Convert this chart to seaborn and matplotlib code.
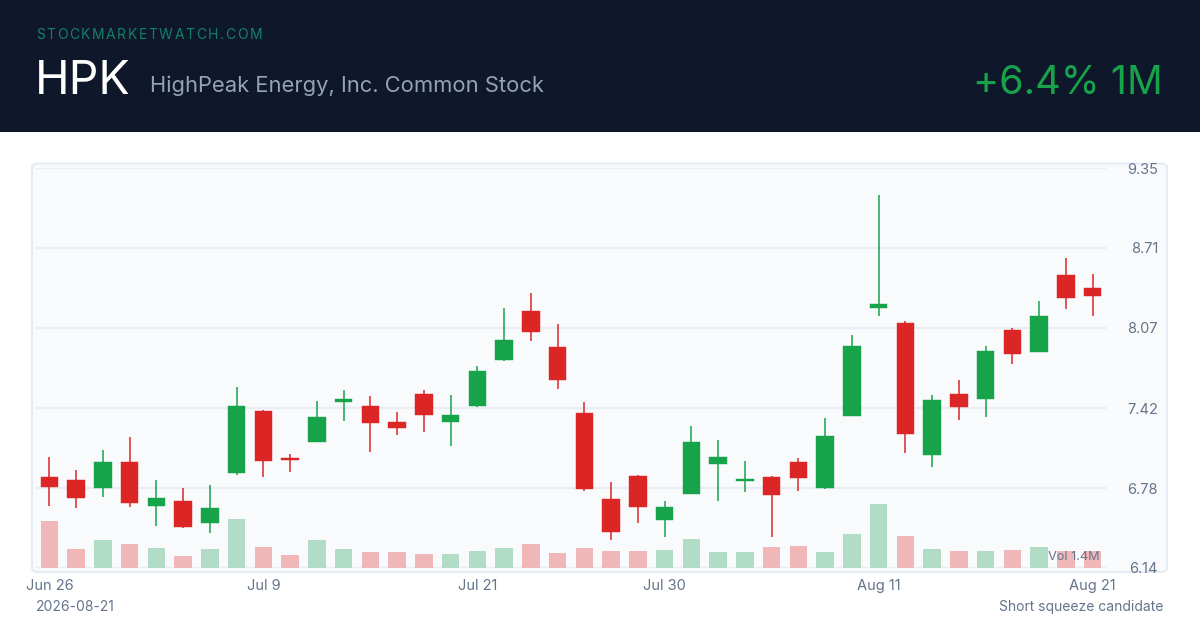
import numpy as np
import pandas as pd
import matplotlib
matplotlib.use("Agg")
import matplotlib.pyplot as plt
import seaborn as sns
from matplotlib.patches import FancyBboxPatch, Rectangle

# ---------------- data ----------------
dates = [d for d in pd.bdate_range("2026-06-26", "2026-08-21") if d != pd.Timestamp("2026-07-03")]
opens = [6.87, 6.85, 6.78, 6.99, 6.64, 6.68, 6.50, 6.90, 7.40, 7.025, 7.15, 7.475, 7.44, 7.31, 7.54,
         7.31, 7.44, 7.81, 8.20, 7.91, 7.38, 6.69, 6.88, 6.525, 6.73, 6.975, 6.835, 6.87, 6.99, 6.78,
         7.36, 8.225, 8.11, 7.045, 7.54, 7.50, 8.05, 7.87, 8.49, 8.39]
closes = [6.79, 6.70, 6.99, 6.66, 6.70, 6.47, 6.62, 7.44, 7.00, 7.005, 7.35, 7.495, 7.30, 7.26, 7.37,
          7.37, 7.72, 7.97, 8.03, 7.65, 6.77, 6.43, 6.63, 6.63, 7.15, 7.03, 6.85, 6.725, 6.865, 7.20,
          7.92, 8.26, 7.215, 7.49, 7.435, 7.88, 7.86, 8.16, 8.31, 8.32]
highs = [7.03, 6.93, 7.09, 7.19, 6.85, 6.78, 6.81, 7.59, 7.41, 7.055, 7.48, 7.57, 7.52, 7.39, 7.57,
         7.53, 7.76, 8.23, 8.35, 8.10, 7.47, 6.83, 6.885, 6.68, 7.28, 7.17, 7.00, 6.875, 7.02, 7.34,
         8.01, 9.13, 8.12, 7.53, 7.65, 7.92, 8.07, 8.28, 8.63, 8.50]
lows = [6.64, 6.62, 6.71, 6.63, 6.48, 6.46, 6.42, 6.89, 6.87, 6.91, 7.15, 7.32, 7.07, 7.21, 7.23,
        7.12, 7.43, 7.80, 7.96, 7.58, 6.76, 6.365, 6.50, 6.39, 6.73, 6.68, 6.75, 6.39, 6.76, 6.775,
        7.36, 8.16, 7.06, 6.95, 7.33, 7.35, 7.78, 7.87, 8.22, 8.16]
volumes_m = [1.03, 0.42, 0.61, 0.52, 0.43, 0.26, 0.41, 1.07, 0.45, 0.28, 0.61, 0.41, 0.36, 0.36, 0.30,
             0.30, 0.38, 0.44, 0.53, 0.33, 0.43, 0.37, 0.38, 0.40, 0.63, 0.36, 0.34, 0.47, 0.48, 0.34,
             0.75, 1.40, 0.70, 0.41, 0.37, 0.37, 0.39, 0.45, 0.37, 0.37]
tick_labels = ["Jun 26", "Jul 9", "Jul 21", "Jul 30", "Aug 11", "Aug 21"]
tick_dates = ["2026-06-26", "2026-07-09", "2026-07-21", "2026-07-30", "2026-08-11", "2026-08-21"]
price_ticks = [6.14, 6.78, 7.42, 8.07, 8.71, 9.35]
y_min, y_max = 6.14, 9.35

ticker = "HPK"
company = "HighPeak Energy, Inc. Common Stock"
site = "STOCKMARKETWATCH.COM"
change_text = "+6.4% 1M"
date_stamp = "2026-08-21"
footnote = "Short squeeze candidate"
vol_label = "Vol 1.4M"

# ---------------- style ----------------
sns.set_theme(style="white")
plt.rcParams["font.family"] = ["Inter", "DejaVu Sans"]

GREEN = "#16a34a"
RED = "#dc2626"
VGREEN = "#b1dcc5"
VRED = "#f0b7b9"
MUTED = "#64748b"
GRID = "#e9edf3"

W, H = 1200, 630
fig = plt.figure(figsize=(W / 100, H / 100), dpi=100)
fig.patch.set_facecolor("white")

def fx(px):
    return px / W

def fy(py):
    return 1 - py / H

# header band
fig.patches.append(Rectangle((0, fy(132)), 1, 132 / H, transform=fig.transFigure,
                             facecolor="#0f172a", edgecolor="none", zorder=-2))
# chart panel
fig.patches.append(FancyBboxPatch((fx(32), fy(572)), fx(1135), (572 - 163.5) / H,
                                  boxstyle="round,pad=0,rounding_size=0.006",
                                  transform=fig.transFigure, facecolor="#f8fafc",
                                  edgecolor="#e2e8f0", linewidth=1.2, zorder=-2))

# ---------------- axes ----------------
ax = fig.add_axes([fx(36), 1 - 568 / H, fx(1070), 400 / H])
ax.set_facecolor("none")
ax2 = ax.twinx()
ax2.set_facecolor("none")

n = len(opens)
idx = np.arange(n)
o = np.array(opens); c = np.array(closes)
hi = np.array(highs); lo = np.array(lows)
up = c >= o

# volume bars via seaborn
vol_df = pd.DataFrame({"i": idx, "vol": volumes_m, "dir": np.where(up, "up", "down")})
sns.barplot(data=vol_df, x="i", y="vol", hue="dir", palette={"up": VGREEN, "down": VRED},
            native_scale=True, width=0.66, errorbar=None, legend=False, ax=ax2,
            linewidth=0, saturation=1)
ax2.set_ylim(0, max(volumes_m) / 0.16)
ax2.set_yticks([])
ax2.set_ylabel("")
ax2.set_xlabel("")
for s in ax2.spines.values():
    s.set_visible(False)

# candles
colors = np.where(up, GREEN, RED)
ax.vlines(idx, lo, hi, colors=colors, linewidth=1.1, zorder=3)
body_bottom = np.minimum(o, c)
body_h = np.maximum(np.abs(c - o), 0.018)
ax.bar(idx, body_h, bottom=body_bottom, width=0.66, color=colors, edgecolor=colors,
       linewidth=0.3, zorder=4)

ax.set_xlim(-0.5, n - 0.5)
ax.set_ylim(y_min, y_max)
ax.set_yticks(price_ticks)
ax.set_yticklabels([f"{v:.2f}" for v in price_ticks])
ax.yaxis.tick_right()
ax.tick_params(axis="y", length=0, pad=37.5, labelsize=10.5, labelcolor=MUTED)
for lab in ax.get_yticklabels():
    lab.set_horizontalalignment("right")
ax.grid(axis="y", color=GRID, linewidth=1.6, zorder=0)
ax.grid(axis="x", visible=False)
ax.set_axisbelow(True)

date_index = {d.strftime("%Y-%m-%d"): i for i, d in enumerate(dates)}
ax.set_xticks([date_index[d] for d in tick_dates])
ax.set_xticklabels(tick_labels)
ax.tick_params(axis="x", length=0, pad=8, labelsize=10.5, labelcolor=MUTED)
for s in ax.spines.values():
    s.set_visible(False)

ax2.text(0.9945, 0.028, vol_label, transform=ax.transAxes, ha="right", va="center",
         fontsize=9.2, color=MUTED, zorder=10)

# ---------------- header text ----------------
renderer = fig.canvas.get_renderer()
chars = []
for ch in site:
    t = fig.text(0, fy(35), ch, fontsize=10, color="#13806c", va="center", ha="left")
    chars.append(t)
widths = [t.get_window_extent(renderer).width for t in chars]
track = (226 - sum(widths)) / (len(site) - 1)
xpos = 36
for t, w in zip(chars, widths):
    t.set_x(fx(xpos))
    xpos += w + track

fig.text(fx(35), fy(94), ticker, fontsize=33.5, color="white", va="baseline", ha="left")
fig.text(fx(150), fy(92), company, fontsize=15.8, color="#94a3b8", va="baseline", ha="left")
fig.text(fx(1163), fy(93.5), change_text, fontsize=28.5, color=GREEN, va="baseline", ha="right")

# footer
fig.text(fx(36), fy(607), date_stamp, fontsize=10, color=MUTED, va="center", ha="left")
fig.text(fx(1163), fy(607), footnote, fontsize=10, color=MUTED, va="center", ha="right")

fig.savefig("out.png", dpi=100, facecolor="white")
